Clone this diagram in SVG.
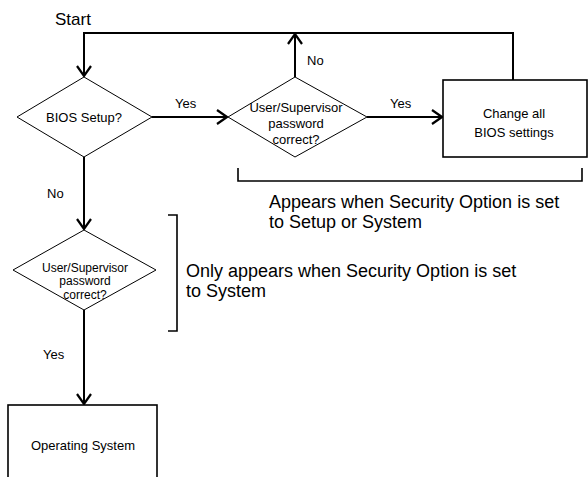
<svg xmlns="http://www.w3.org/2000/svg" width="588" height="477" viewBox="0 0 588 477">
<defs>
<style>
.t{font-family:"Liberation Sans",Arial,sans-serif;font-size:13px;fill:#000}
.s{font-family:"Liberation Sans",Arial,sans-serif;font-size:12px;fill:#000}
.lbl{font-family:"Liberation Sans",Arial,sans-serif;font-size:13px;fill:#000}
.note{font-family:"Liberation Sans",Arial,sans-serif;font-size:18px;fill:#000}
.dia{fill:#fff;stroke:#000;stroke-width:1}
.box{fill:#fff;stroke:#000;stroke-width:1.6}
.c{fill:none;stroke:#000;stroke-width:2}
.br{fill:none;stroke:#000;stroke-width:1.6}
</style>
<marker id="ah" viewBox="0 0 12 16" refX="11" refY="8" markerWidth="12" markerHeight="16" markerUnits="userSpaceOnUse" orient="auto">
<path d="M1,1 L11,8 L1,15" fill="none" stroke="#000" stroke-width="2.2"/>
</marker>
</defs>
<rect width="588" height="477" fill="#fff"/>
<text class="note" x="55" y="25" style="font-size:17px">Start</text>
<g id="connectors">
<path class="c" d="M513,80 V33 H84 V76" marker-end="url(#ah)"/>
<path class="c" d="M152,117 H227" marker-end="url(#ah)"/>
<path class="c" d="M295,77 V34" marker-end="url(#ah)"/>
<path class="c" d="M367,117 H442" marker-end="url(#ah)"/>
<path class="c" d="M84,157 V229" marker-end="url(#ah)"/>
<path class="c" d="M84,310 V404" marker-end="url(#ah)"/>
<text class="lbl" x="175" y="108">Yes</text>
<text class="lbl" x="390" y="108">Yes</text>
<text class="lbl" x="307" y="65">No</text>
<text class="lbl" x="47" y="198">No</text>
<text class="lbl" x="43" y="359">Yes</text>
</g>
<g id="bios-setup">
<polygon class="dia" points="84,77 152,117 84,157 17,117"/>
<text class="t" x="84" y="121.5" text-anchor="middle">BIOS Setup?</text>
</g>
<g id="password-1">
<polygon class="dia" points="295,77 367,117 295,157 228,117"/>
<text class="t" x="296" y="111.5" text-anchor="middle">User/Supervisor</text>
<text class="t" x="296" y="127.5" text-anchor="middle">password</text>
<text class="t" x="296" y="143.5" text-anchor="middle">correct?</text>
</g>
<g id="change-settings">
<rect class="box" x="443" y="80" width="144" height="77"/>
<text class="t" x="514" y="117.5" text-anchor="middle">Change all</text>
<text class="t" x="514" y="136.5" text-anchor="middle">BIOS settings</text>
</g>
<g id="password-2">
<polygon class="dia" points="84,230 156,270 84,310 13,270"/>
<text class="s" x="85" y="271.5" text-anchor="middle">User/Supervisor</text>
<text class="s" x="85" y="285" text-anchor="middle">password</text>
<text class="s" x="85" y="298.5" text-anchor="middle">correct?</text>
</g>
<g id="operating-system">
<rect class="box" x="8" y="405" width="149" height="80"/>
<text class="t" x="83" y="450" text-anchor="middle">Operating System</text>
</g>
<g id="note-setup-or-system">
<path class="br" d="M238,168 V181 H582 V168"/>
<text class="note" x="269" y="208">Appears when Security Option is set</text>
<text class="note" x="269" y="228">to Setup or System</text>
</g>
<g id="note-system">
<path class="br" d="M168,215 H177 V331 H168"/>
<text class="note" x="186" y="277">Only appears when Security Option is set</text>
<text class="note" x="186" y="297">to System</text>
</g>
</svg>
